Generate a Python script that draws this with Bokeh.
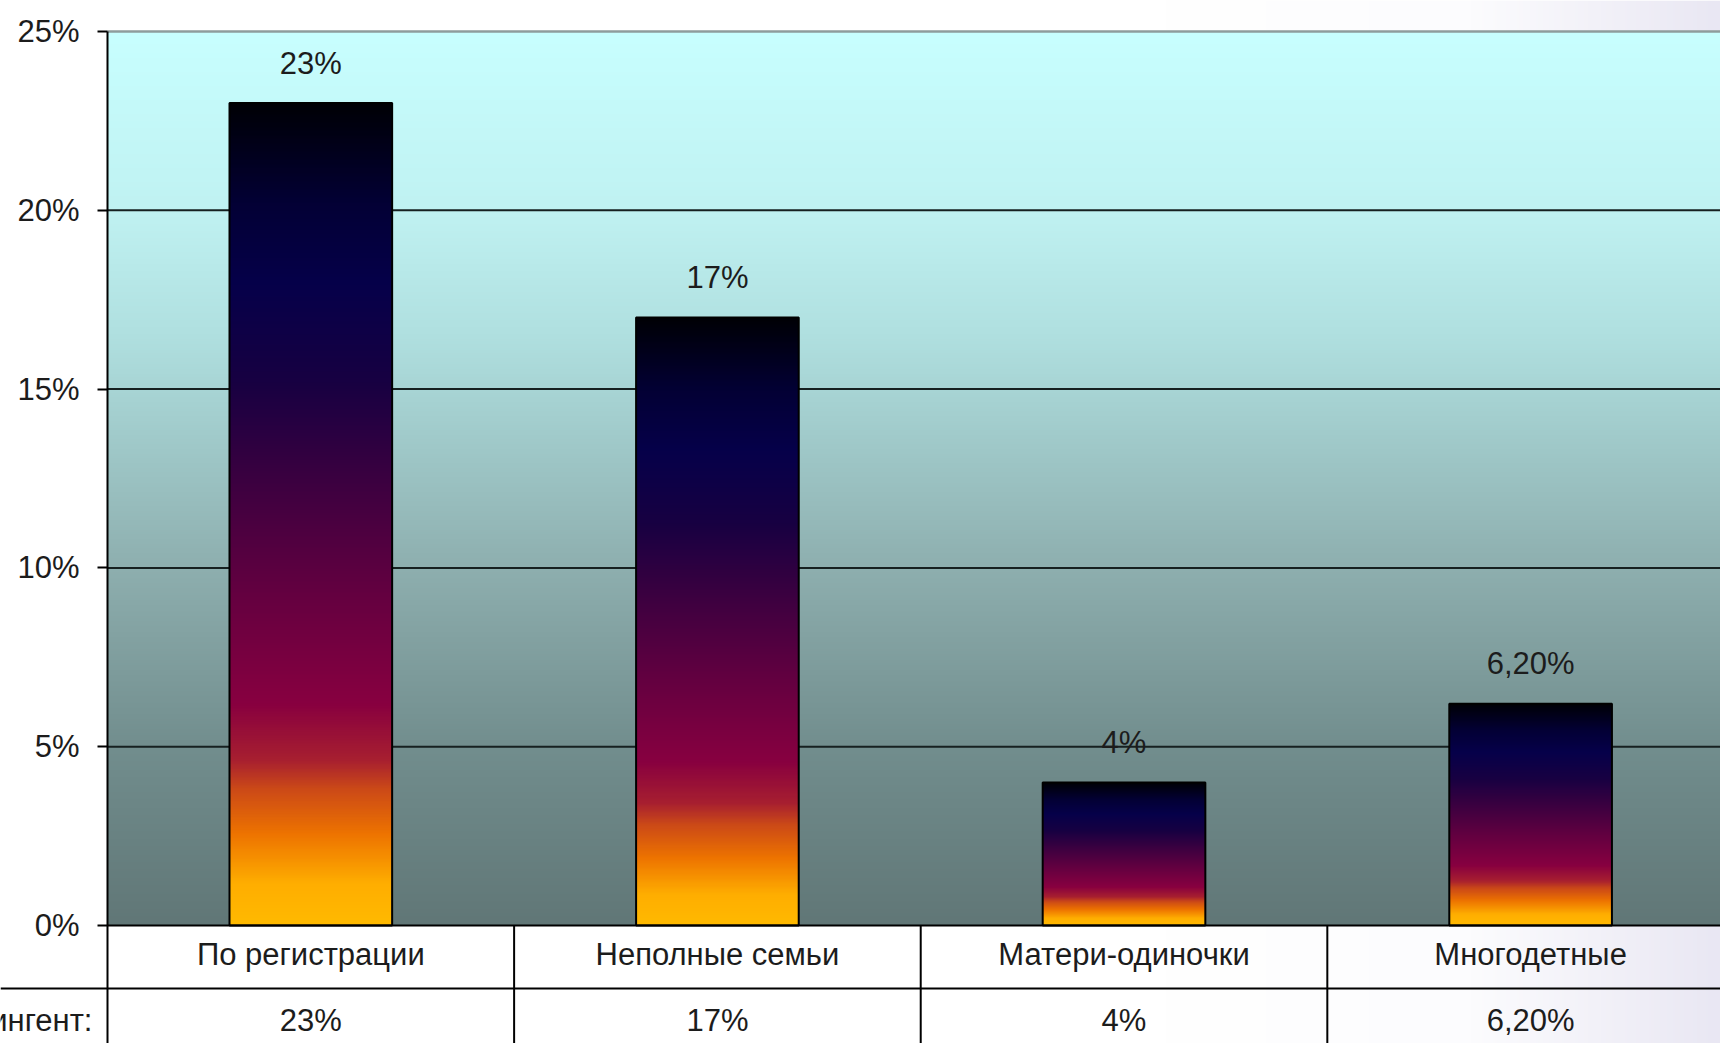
import numpy as np
from bokeh.plotting import figure
from bokeh.models import Range1d, FixedTicker, PrintfTickFormatter
from bokeh.core.properties import value
from bokeh.embed import file_html
from bokeh.resources import INLINE

# ---- data ----
categories = ["По регистрации", "Неполные семьи", "Матери-одиночки", "Многодетные"]
values = [23, 17, 4, 6.2]
value_labels = ["23%", "17%", "4%", "6,20%"]
row_header = "Контингент:"
y_ticks = [0, 5, 10, 15, 20, 25]

FONT = "Liberation Sans"
TXT = "#1c1c1c"
FS = "31px"

# ---- colour helpers ----
def hex2rgb(h):
    h = h.lstrip("#")
    return [int(h[i:i + 2], 16) for i in (0, 2, 4)]

def gradient(stops, n, vertical=True):
    pos = np.linspace(0, 1, n)
    ps = [s[0] for s in stops]
    cols = np.array([hex2rgb(s[1]) for s in stops], dtype=float)
    shape = (n, 1) if vertical else (1, n)
    img = np.empty(shape, dtype=np.uint32)
    view = img.view(dtype=np.uint8).reshape(shape + (4,))
    for c in range(3):
        ch = np.clip(np.interp(pos, ps, cols[:, c]), 0, 255).astype(np.uint8)
        if vertical:
            view[:, 0, c] = ch
        else:
            view[0, :, c] = ch
    view[..., 3] = 255
    return img

bar_stops = [
    (0.00, "#FFBA00"), (0.05, "#FFAE00"), (0.11, "#EE7400"), (0.165, "#CC4A18"),
    (0.20, "#A82030"), (0.27, "#880040"), (0.40, "#650040"), (0.52, "#420040"),
    (0.66, "#180042"), (0.78, "#06004A"), (0.88, "#030035"), (1.00, "#000005"),
]
bg_stops = [
    (0.0, "#617777"), (0.2, "#728E8E"), (0.4, "#8EAFAF"), (0.6, "#A8D5D5"),
    (0.66, "#B0E0E0"), (0.8, "#C0F2F2"), (1.0, "#C8FFFF"),
]
tint_stops = [(0.0, "#FFFFFF"), (0.55, "#FCFCFE"), (1.0, "#E9E7F3")]

n_cat = len(categories)
x_start, x_end = -0.2632, 3.967
y_bottom, y_top = -3.30, 25.867
row1_bottom = -1.762
row1_text_y = -0.825
row2_text_y = -2.657

p = figure(width=1720, height=1043, output_backend="svg", toolbar_location=None,
           x_range=Range1d(x_start, x_end), y_range=Range1d(y_bottom, y_top),
           x_axis_location=None, min_border=0)
p.background_fill_color = "white"
p.border_fill_color = "white"
p.outline_line_color = None
p.xgrid.visible = False
p.ygrid.visible = False

# slide background tint on the right
p.image_rgba(image=[gradient(tint_stops, 256, vertical=False)], x=2.6, y=y_bottom,
             dw=x_end - 2.6, dh=y_top - y_bottom, level="image")
# plot-area background gradient
p.image_rgba(image=[gradient(bg_stops, 512)], x=0, y=0, dw=n_cat, dh=max(y_ticks), level="image")

# horizontal grid lines (dark) and top border (grey)
inner = [t for t in y_ticks if 0 < t < max(y_ticks)]
p.segment(x0=[0] * len(inner), x1=[n_cat] * len(inner), y0=inner, y1=inner,
          line_color="#162020", line_width=2, level="underlay")
p.segment(x0=[0], x1=[n_cat], y0=[max(y_ticks)], y1=[max(y_ticks)],
          line_color="#8E9C9C", line_width=2.5, level="underlay")

# bars with gradient fill
xs = [i + 0.5 for i in range(n_cat)]
bw = 0.4
p.image_rgba(image=[gradient(bar_stops, 512) for _ in values],
             x=[x - bw / 2 for x in xs], y=[0] * n_cat, dw=[bw] * n_cat, dh=values)
p.vbar(x=xs, width=bw, top=values, bottom=0, fill_alpha=0, line_color="black", line_width=2)

# value labels above bars
p.text(x=xs, y=values, text=value_labels, y_offset=-40, text_align="center",
       text_baseline="middle", text_font=value(FONT), text_font_size=FS, text_color=TXT)

# data table below
p.segment(x0=[0, x_start] + list(range(1, n_cat + 1)), x1=[n_cat, n_cat] + list(range(1, n_cat + 1)),
          y0=[0, row1_bottom] + [0] * n_cat, y1=[0, row1_bottom] + [y_bottom - 1] * n_cat,
          line_color="black", line_width=2)
p.text(x=xs, y=[row1_text_y] * n_cat, text=categories, text_align="center", text_baseline="middle",
       text_font=value(FONT), text_font_size=FS, text_color=TXT)
p.text(x=xs, y=[row2_text_y] * n_cat, text=value_labels, text_align="center", text_baseline="middle",
       text_font=value(FONT), text_font_size=FS, text_color=TXT)
p.text(x=[-0.037], y=[row2_text_y], text=[row_header], text_align="right", text_baseline="middle",
       text_font=value(FONT), text_font_size=FS, text_color=TXT)

# y axis drawn at x = 0
ax = p.yaxis[0]
ax.fixed_location = 0
ax.bounds = (y_bottom, max(y_ticks))
ax.ticker = FixedTicker(ticks=y_ticks)
ax.formatter = PrintfTickFormatter(format="%d%%")
ax.major_label_text_font = FONT
ax.major_label_text_font_size = FS
ax.major_label_text_color = TXT
ax.major_tick_out = 10
ax.major_tick_in = 0
ax.minor_tick_out = 0
ax.minor_tick_in = 0
ax.major_tick_line_width = 2
ax.axis_line_width = 2
ax.axis_line_color = "black"
ax.major_tick_line_color = "black"
ax.major_label_standoff = 18

open("out.html", "w").write(file_html(p, INLINE))
